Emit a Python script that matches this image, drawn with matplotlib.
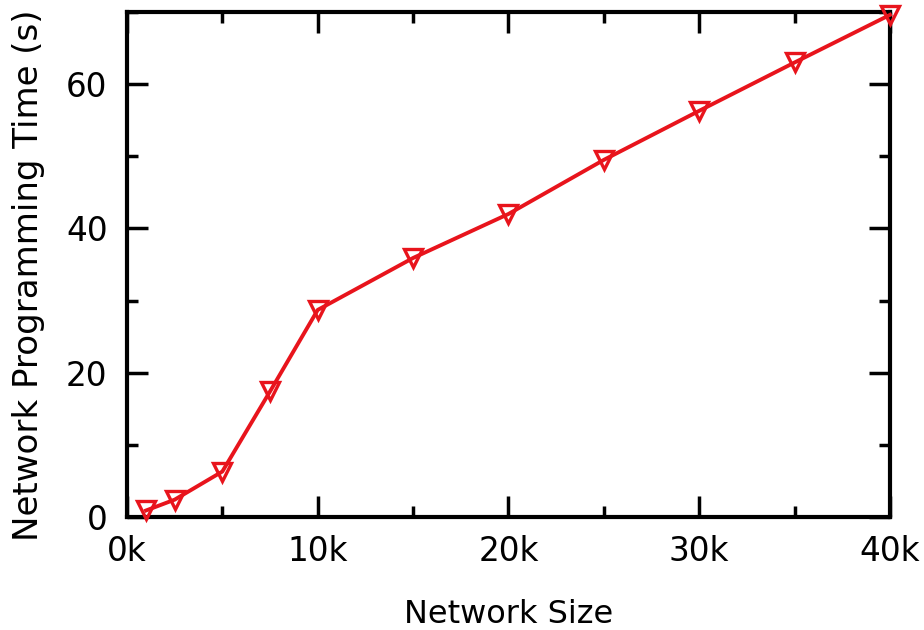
import matplotlib
matplotlib.use("Agg")
import matplotlib.pyplot as plt
from matplotlib.ticker import MultipleLocator, FuncFormatter

network_size = [1000, 2500, 5000, 7500, 10000, 15000, 20000, 25000, 30000, 35000, 40000]
prog_time = [0.9, 2.4, 6.3, 17.4, 28.7, 35.9, 42.0, 49.5, 56.3, 63.0, 69.6]
x_ticks = [0, 10000, 20000, 30000, 40000]
y_ticks = [0, 20, 40, 60]

plt.rcParams['font.family'] = ['DejaVu Sans']
fig = plt.figure(figsize=(9.24, 6.30), dpi=100)
ax = fig.add_axes([0.1374, 0.1794, 0.8258, 0.8016])

ax.plot(network_size, prog_time, color='#e8141c', lw=2.8, marker='v',
        markersize=13, markerfacecolor='none', markeredgecolor='#e8141c',
        markeredgewidth=2.4, clip_on=False, zorder=3)

ax.set_xlim(0, 40000)
ax.set_ylim(0, 70)
ax.set_xticks(x_ticks)
ax.set_yticks(y_ticks)
ax.xaxis.set_minor_locator(MultipleLocator(5000))
ax.yaxis.set_minor_locator(MultipleLocator(10))
ax.xaxis.set_major_formatter(FuncFormatter(lambda v, p: f"{int(v/1000)}k"))

ax.tick_params(which='both', direction='in', top=True, right=True, width=2.5,
               labelsize=23.5, colors='black')
ax.tick_params(which='major', length=15)
ax.tick_params(axis='x', which='major', pad=13)
ax.tick_params(axis='y', which='major', pad=14)
ax.tick_params(which='minor', length=8)
for s in ax.spines.values():
    s.set_linewidth(3)

ax.set_xlabel('Network Size', fontsize=23, labelpad=22)
ax.set_ylabel('Network Programming Time (s)', fontsize=24.5)
ax.yaxis.set_label_coords(-0.108, 0.478)

fig.savefig('out.png', dpi=100)
